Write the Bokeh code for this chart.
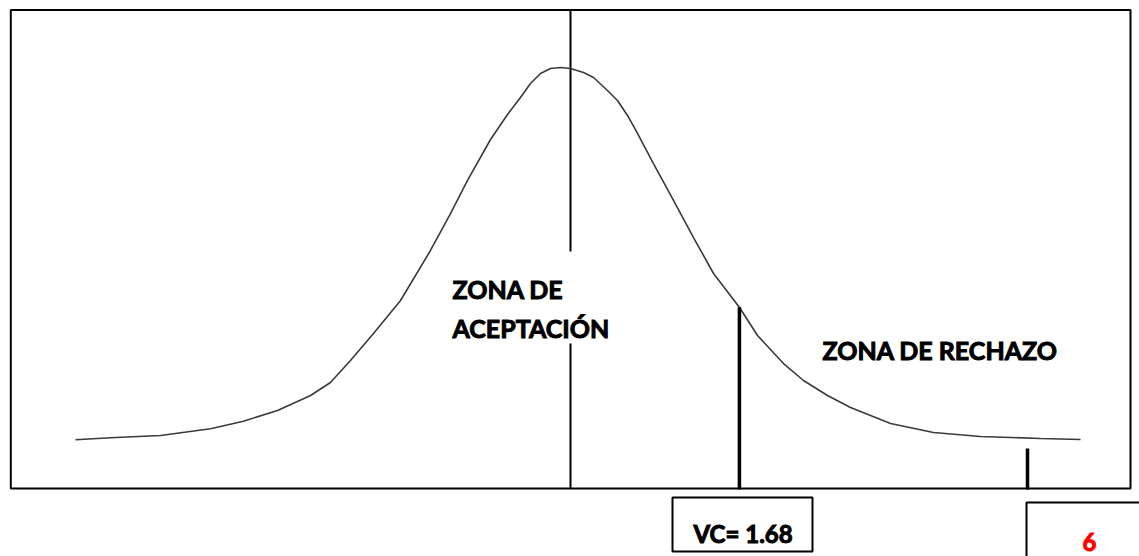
import numpy as np
from bokeh.plotting import figure
from bokeh.models import Range1d
from bokeh.core.properties import value
from bokeh.embed import file_html
from bokeh.resources import INLINE

# ---- data (z-scale, relative density) ----
curve_z = [-4.554, -4.225, -3.756, -3.286, -2.977, -2.657, -2.347, -2.160, -1.972,
           -1.756, -1.502, -1.221, -1.033, -0.873, -0.657, -0.498, -0.376, -0.282,
           -0.188, -0.094, 0.0, 0.094, 0.216, 0.310, 0.441, 0.535, 0.629, 0.704,
           0.873, 1.061, 1.249, 1.437, 1.681, 1.850, 2.094, 2.282, 2.507, 2.723,
           3.099, 3.502, 3.944, 4.507, 4.883]
curve_density = [0.0002, 0.0024, 0.0048, 0.0120, 0.0202, 0.0317, 0.0478, 0.0617, 0.0854,
                 0.1144, 0.1498, 0.2035, 0.2432, 0.2787, 0.3227, 0.3495, 0.3678, 0.3828,
                 0.3936, 0.3989, 0.4000, 0.3989, 0.3946, 0.3893, 0.3753, 0.3646, 0.3485, 0.3334,
                 0.2969, 0.2572, 0.2174, 0.1788, 0.1423, 0.1122, 0.0821, 0.0639, 0.0478, 0.0349,
                 0.0177, 0.0081, 0.0038, 0.0016, 0.0005]
vc_value = 1.68
vc_label = "VC= 1.68"
tc_label = "6"
zone_accept = ["ZONA DE", "ACEPTACIÓN"]
zone_reject = "ZONA DE RECHAZO"

# ---- layout helpers (pixel -> data) ----
SCALE = 106.5
CX = 560.0
BASE = 439.5
PEAKH = 372.5


def X(px):
    return (px - CX) / SCALE


def Y(py):
    return (BASE - py) * 0.4 / PEAKH


W, H = 1139, 556
p = figure(width=W, height=H, x_range=Range1d(X(0), X(W)), y_range=Range1d(Y(H), Y(0)),
           output_backend="svg", toolbar_location=None, min_border=0,
           x_axis_location=None, y_axis_location=None)
p.grid.visible = False
p.outline_line_color = None
p.background_fill_color = "white"
p.border_fill_color = "white"

# main frame box
p.quad(left=[X(10.3)], right=[X(1130)], top=[Y(9.5)], bottom=[Y(488)],
       fill_color=None, line_color="black", line_width=2)

# central vertical line (broken around the label)
p.segment(x0=[X(570), X(570)], y0=[Y(9.5), Y(343)], x1=[X(570), X(570)], y1=[Y(251), Y(488)],
          line_color="black", line_width=2)

# curve
p.line(curve_z, curve_density, line_color="#3a3a3a", line_width=1.6)

# critical value line
vc_top = float(np.interp(vc_value, curve_z, curve_density))
p.segment(x0=[vc_value], y0=[vc_top], x1=[vc_value], y1=[Y(489)], line_color="black", line_width=3.5)

# short tick for test value
p.segment(x0=[X(1027)], y0=[Y(448)], x1=[X(1027)], y1=[Y(489)], line_color="black", line_width=3.5)

# VC box
p.quad(left=[X(672)], right=[X(812)], top=[Y(497)], bottom=[Y(551)],
       fill_color="white", line_color="black", line_width=2)
# test value box (cut off)
p.quad(left=[X(1026)], right=[X(1200)], top=[Y(502)], bottom=[Y(600)],
       fill_color="white", line_color="black", line_width=2)

font = value("Lato")
common = dict(text_font=font, text_font_style="bold", text_baseline="alphabetic",
              text_align="left")
p.text(x=[X(452), X(452)], y=[Y(288), Y(327)], text=zone_accept,
       text_font_size="25px", text_color="black", text_outline_color="black", **common)
p.text(x=[X(822)], y=[Y(349)], text=[zone_reject],
       text_font_size="25px", text_color="black", text_outline_color="black", **common)
p.text(x=[X(693)], y=[Y(533)], text=[vc_label],
       text_font_size="24px", text_color="black", text_outline_color="black", **common)
p.text(x=[X(1082)], y=[Y(541)], text=[tc_label],
       text_font_size="24px", text_color="#ff0000", text_outline_color="#ff0000", **common)

open("out.html", "w").write(file_html(p, INLINE))
